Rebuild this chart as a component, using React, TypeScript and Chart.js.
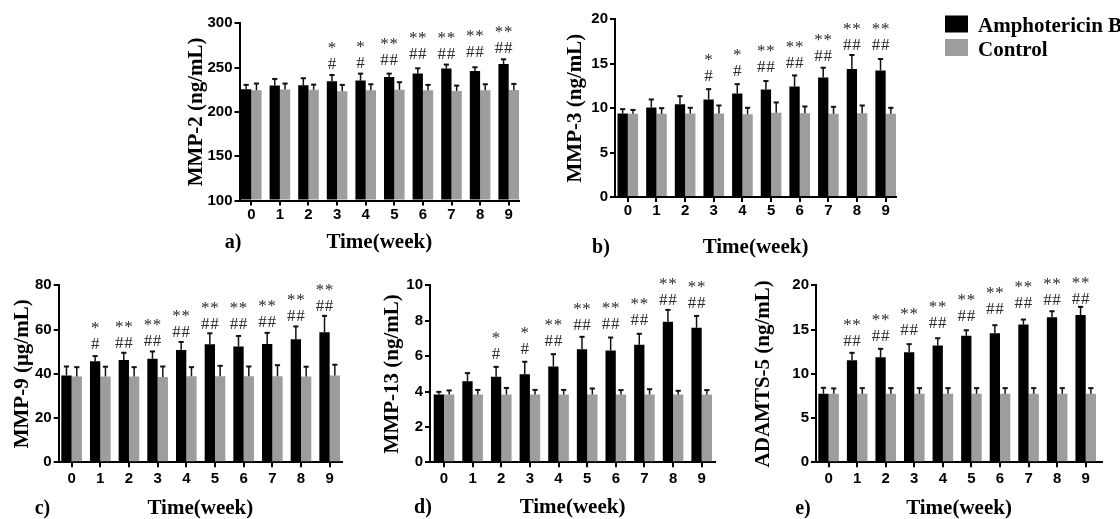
import React, { useEffect, useRef } from 'react';
import { Chart, registerables } from 'chart.js';

Chart.register(...registerables);

// ---------------- data ----------------
const weeks = [0, 1, 2, 3, 4, 5, 6, 7, 8, 9];
const seriesNames = ['Amphotericin B', 'Control'];
const seriesColors = ['#000000', '#9d9d9d'];
const xTitle = 'Time(week)';

// MMP-2
const mmp2Amph = [225.6, 229.7, 230.0, 234.6, 235.3, 239.5, 243.2, 248.9, 246.2, 254.1];
const mmp2AmphErr = [4.9, 7.5, 8.0, 7.1, 7.9, 3.7, 6.0, 4.5, 4.2, 5.3];
const mmp2Ctrl = [224.4, 225.2, 225.0, 223.3, 224.4, 225.0, 224.4, 223.7, 224.4, 224.8];
const mmp2CtrlErr = [7.6, 6.8, 5.8, 7.2, 6.8, 8.5, 6.1, 6.0, 6.8, 6.8];
const mmp2Stars = ['', '', '', '*', '*', '**', '**', '**', '**', '**'];
const mmp2Hashes = ['', '', '', '#', '#', '##', '##', '##', '##', '##'];
const mmp2SigLevel = [null, null, null, 254, 255, 258.5, 265, 265.3, 266.8, 272];

// MMP-3
const mmp3Amph = [9.4, 10.08, 10.45, 10.98, 11.65, 12.1, 12.44, 13.46, 14.4, 14.25];
const mmp3AmphErr = [0.49, 0.9, 0.9, 1.16, 1.05, 0.95, 1.24, 1.09, 1.58, 1.28];
const mmp3Ctrl = [9.36, 9.36, 9.4, 9.4, 9.32, 9.47, 9.44, 9.36, 9.44, 9.36];
const mmp3CtrlErr = [0.44, 0.64, 0.64, 0.9, 0.72, 1.17, 0.75, 0.79, 0.86, 0.68];
const mmp3Stars = ['', '', '', '*', '*', '**', '**', '**', '**', '**'];
const mmp3Hashes = ['', '', '', '#', '#', '##', '##', '##', '##', '##'];
const mmp3SigLevel = [null, null, null, 13.6, 14.1, 14.6, 15.04, 15.8, 17.0, 17.0];

// MMP-9
const mmp9Amph = [39.25, 45.7, 46.2, 46.8, 50.8, 53.4, 52.3, 53.5, 55.6, 58.8];
const mmp9AmphErr = [4.05, 2.3, 3.3, 3.3, 3.6, 4.9, 4.8, 5.0, 5.8, 7.4];
const mmp9Ctrl = [38.8, 38.8, 38.8, 38.6, 38.9, 38.9, 38.9, 38.9, 38.8, 39.25];
const mmp9CtrlErr = [4.2, 4.4, 4.2, 4.7, 4.1, 4.7, 4.4, 5.0, 4.4, 4.85];
const mmp9Stars = ['', '*', '**', '**', '**', '**', '**', '**', '**', '**'];
const mmp9Hashes = ['', '#', '##', '##', '##', '##', '##', '##', '##', '##'];
const mmp9SigLevel = [null, 53.2, 53.5, 54.7, 58.5, 62.3, 62.3, 63.0, 66.0, 70.2];

// MMP-13
const mmp13Amph = [3.83, 4.58, 4.83, 4.98, 5.41, 6.39, 6.32, 6.64, 7.94, 7.6];
const mmp13AmphErr = [0.15, 0.46, 0.56, 0.7, 0.7, 0.7, 0.73, 0.62, 0.67, 0.67];
const mmp13Ctrl = [3.83, 3.83, 3.83, 3.83, 3.83, 3.83, 3.83, 3.83, 3.83, 3.83];
const mmp13CtrlErr = [0.23, 0.26, 0.37, 0.26, 0.26, 0.34, 0.25, 0.3, 0.21, 0.25];
const mmp13Stars = ['', '', '*', '*', '**', '**', '**', '**', '**', '**'];
const mmp13Hashes = ['', '', '#', '#', '##', '##', '##', '##', '##', '##'];
const mmp13SigLevel = [null, null, 6.11, 6.39, 6.82, 7.71, 7.77, 7.99, 9.14, 8.99];

// ADAMTS-5
const adamts5Amph = [7.74, 11.54, 11.88, 12.44, 13.2, 14.29, 14.59, 15.56, 16.39, 16.65];
const adamts5AmphErr = [0.68, 0.83, 0.94, 0.91, 0.82, 0.63, 0.9, 0.57, 0.68, 0.91];
const adamts5Ctrl = [7.74, 7.74, 7.74, 7.74, 7.74, 7.74, 7.74, 7.74, 7.74, 7.74];
const adamts5CtrlErr = [0.61, 0.64, 0.64, 0.64, 0.64, 0.64, 0.64, 0.64, 0.64, 0.64];
const adamts5Stars = ['', '**', '**', '**', '**', '**', '**', '**', '**', '**'];
const adamts5Hashes = ['', '##', '##', '##', '##', '##', '##', '##', '##', '##'];
const adamts5SigLevel = [null, 13.68, 14.25, 14.89, 15.68, 16.5, 17.26, 17.9, 18.3, 18.42];

// ---------------- layout / style ----------------
const W = 1120;
const H = 519;
const SERIF = '"Liberation Serif", "Times New Roman", Times, serif';
const SANS = '"Liberation Sans", Arial, Helvetica, sans-serif';
const TITLE_SIZE = 21;
const TITLE_LH = 1.2;
const HALF = 0.36;

type PanelDef = {
  key: string;
  yTitle: string;
  yMin: number;
  yMax: number;
  yStep: number;
  values: number[][];
  errors: number[][];
  stars: string[];
  hashes: string[];
  sig: (number | null)[];
  label: string;
  labelX: number;
  labelY: number;
  axisLeft: number;
  axisRight: number;
  barsLeft: number;
  barsRight: number;
  axisTop: number;
  axisBottom: number;
  yTitleX: number;
  xTitleY: number;
  xTickPad: number;
  legend?: boolean;
};

const panels: PanelDef[] = [
  {
    key: 'a', yTitle: 'MMP-2 (ng/mL)', yMin: 100, yMax: 300, yStep: 50,
    values: [mmp2Amph, mmp2Ctrl], errors: [mmp2AmphErr, mmp2CtrlErr],
    stars: mmp2Stars, hashes: mmp2Hashes, sig: mmp2SigLevel,
    label: 'a)', labelX: 233, labelY: 243,
    axisLeft: 239.5, axisRight: 519, barsLeft: 241, barsRight: 519,
    axisTop: 23.3, axisBottom: 200.5, yTitleX: 197, xTitleY: 243, xTickPad: 0,
  },
  {
    key: 'b', yTitle: 'MMP-3 (ng/mL)', yMin: 0, yMax: 20, yStep: 5,
    values: [mmp3Amph, mmp3Ctrl], errors: [mmp3AmphErr, mmp3CtrlErr],
    stars: mmp3Stars, hashes: mmp3Hashes, sig: mmp3SigLevel,
    label: 'b)', labelX: 601, labelY: 248,
    axisLeft: 615, axisRight: 896, barsLeft: 617.5, barsRight: 896,
    axisTop: 19.3, axisBottom: 197, yTitleX: 576, xTitleY: 248, xTickPad: 0,
    legend: true,
  },
  {
    key: 'c', yTitle: 'MMP-9 (μg/mL)', yMin: 0, yMax: 80, yStep: 20,
    values: [mmp9Amph, mmp9Ctrl], errors: [mmp9AmphErr, mmp9CtrlErr],
    stars: mmp9Stars, hashes: mmp9Hashes, sig: mmp9SigLevel,
    label: 'c)', labelX: 42.5, labelY: 509,
    axisLeft: 58.7, axisRight: 342, barsLeft: 61.3, barsRight: 340,
    axisTop: 285.3, axisBottom: 462.3, yTitleX: 22.5, xTitleY: 509, xTickPad: 3,
  },
  {
    key: 'd', yTitle: 'MMP-13 (ng/mL)', yMin: 0, yMax: 10, yStep: 2,
    values: [mmp13Amph, mmp13Ctrl], errors: [mmp13AmphErr, mmp13CtrlErr],
    stars: mmp13Stars, hashes: mmp13Hashes, sig: mmp13SigLevel,
    label: 'd)', labelX: 423, labelY: 508,
    axisLeft: 430, axisRight: 715, barsLeft: 433.7, barsRight: 712,
    axisTop: 285.3, axisBottom: 462.3, yTitleX: 392.5, xTitleY: 508, xTickPad: 3,
  },
  {
    key: 'e', yTitle: 'ADAMTS-5 (ng/mL)', yMin: 0, yMax: 20, yStep: 5,
    values: [adamts5Amph, adamts5Ctrl], errors: [adamts5AmphErr, adamts5CtrlErr],
    stars: adamts5Stars, hashes: adamts5Hashes, sig: adamts5SigLevel,
    label: 'e)', labelX: 803, labelY: 509,
    axisLeft: 816, axisRight: 1102, barsLeft: 818.3, barsRight: 1096,
    axisTop: 285.3, axisBottom: 462.3, yTitleX: 764, xTitleY: 509, xTickPad: 3,
  },
];

function drawChars(ctx: CanvasRenderingContext2D, str: string, x: number, y: number) {
  const n = str.length;
  const gap = 9.2;
  for (let k = 0; k < n; k++) {
    const cx = x + (k - (n - 1) / 2) * gap;
    ctx.fillText(str[k], cx, y);
  }
}

function makeExtras(p: PanelDef) {
  return {
    id: 'extras_' + p.key,
    afterDatasetsDraw(chart: any) {
      const ctx: CanvasRenderingContext2D = chart.ctx;
      const yScale = chart.scales.y;
      ctx.save();
      // error bars (upper whisker only)
      p.errors.forEach((errArr, di) => {
        const meta = chart.getDatasetMeta(di);
        const vals = p.values[di];
        meta.data.forEach((el: any, i: number) => {
          const x = el.x;
          const yb = el.y;
          const yt = yScale.getPixelForValue(vals[i] + errArr[i]);
          ctx.strokeStyle = '#111';
          ctx.lineWidth = 1.5;
          ctx.beginPath();
          ctx.moveTo(x, yb);
          ctx.lineTo(x, yt);
          ctx.stroke();
          ctx.lineWidth = 2;
          ctx.beginPath();
          ctx.moveTo(x - 2.6, yt);
          ctx.lineTo(x + 2.6, yt);
          ctx.stroke();
        });
      });
      // significance marks
      const meta0 = chart.getDatasetMeta(0);
      ctx.fillStyle = '#2a2a2a';
      ctx.font = `17px ${SERIF}`;
      ctx.textAlign = 'center';
      ctx.textBaseline = 'middle';
      p.sig.forEach((lvl, i) => {
        if (lvl === null || lvl === undefined) return;
        const x = meta0.data[i].x;
        const yc = yScale.getPixelForValue(lvl);
        if (p.hashes[i]) drawChars(ctx, p.hashes[i], x, yc);
        if (p.stars[i]) drawChars(ctx, p.stars[i], x, yc - 16);
      });
      // panel letter
      ctx.fillStyle = '#000';
      ctx.font = `bold 20px ${SERIF}`;
      ctx.textAlign = 'center';
      ctx.textBaseline = 'middle';
      ctx.fillText(p.label, p.labelX, p.labelY);
      // legend
      if (p.legend) {
        chart.data.datasets.forEach((ds: any, i: number) => {
          const top = 15.5 + i * 23.5;
          ctx.fillStyle = ds.backgroundColor;
          ctx.fillRect(945, top, 23, 17);
          ctx.fillStyle = '#000';
          ctx.font = `bold 21px ${SERIF}`;
          ctx.textAlign = 'left';
          ctx.textBaseline = 'alphabetic';
          ctx.fillText(ds.label, 978, top + 16.5);
        });
      }
      ctx.restore();
    },
  };
}

function buildConfig(p: PanelDef): any {
  const lh = TITLE_SIZE * TITLE_LH;
  const yBoxLeft = p.yTitleX - lh / 2;
  const xBoxBottom = p.xTitleY + lh / 2;
  const s = (p.barsRight - p.barsLeft) / (weeks.length - 1 + 2 * HALF);
  const xMin = -HALF - (p.barsLeft - p.axisLeft) / s;
  const xMax = weeks.length - 1 + HALF + (p.axisRight - p.barsRight) / s;
  const tickFont = { family: SANS, size: 15, weight: 'bold' as const };
  const titleFont = { family: SERIF, size: TITLE_SIZE, weight: 'bold' as const, lineHeight: TITLE_LH };
  const grid = {
    display: true,
    drawOnChartArea: false,
    drawTicks: true,
    tickLength: 5,
    lineWidth: 2,
    color: '#000',
    offset: false,
  };
  const border = { display: true, color: '#000', width: 2 };
  return {
    type: 'bar',
    data: {
      datasets: seriesNames.map((name, di) => ({
        label: name,
        data: weeks.map((w, i) => ({ x: w, y: p.values[di][i] })),
        backgroundColor: seriesColors[di],
        borderWidth: 0,
        base: p.yMin,
        categoryPercentage: 0.72,
        barPercentage: 1,
      })),
    },
    options: {
      responsive: false,
      maintainAspectRatio: false,
      animation: false,
      events: [],
      layout: {
        padding: {
          left: yBoxLeft,
          top: p.axisTop,
          right: W - p.axisRight,
          bottom: H - xBoxBottom,
        },
      },
      plugins: {
        legend: { display: false },
        tooltip: { enabled: false },
        title: { display: false },
      },
      scales: {
        x: {
          type: 'linear',
          min: xMin,
          max: xMax,
          offset: false,
          afterFit: (sc: any) => {
            sc.height = xBoxBottom - p.axisBottom;
          },
          grid,
          border,
          ticks: {
            stepSize: 1,
            includeBounds: false,
            autoSkip: false,
            maxRotation: 0,
            padding: p.xTickPad,
            color: '#000',
            font: tickFont,
            callback: (v: number) => (Number.isInteger(v) && weeks[v] !== undefined ? String(weeks[v]) : ''),
          },
          title: { display: true, text: xTitle, color: '#000', font: titleFont, padding: 0 },
        },
        y: {
          type: 'linear',
          min: p.yMin,
          max: p.yMax,
          afterFit: (sc: any) => {
            sc.width = p.axisLeft - yBoxLeft;
          },
          grid,
          border,
          ticks: {
            stepSize: p.yStep,
            padding: 2,
            color: '#000',
            font: tickFont,
          },
          title: { display: true, text: p.yTitle, color: '#000', font: titleFont, padding: 0 },
        },
      },
    },
    plugins: [makeExtras(p)],
  };
}

function Panel({ def }: { def: PanelDef }) {
  const ref = useRef<HTMLCanvasElement>(null);
  useEffect(() => {
    if (!ref.current) return;
    const chart = new Chart(ref.current, buildConfig(def));
    return () => chart.destroy();
  }, [def]);
  return (
    <canvas
      ref={ref}
      width={W}
      height={H}
      style={{ position: 'absolute', left: 0, top: 0, width: W, height: H }}
    />
  );
}

export default function App() {
  return (
    <div
      style={{
        position: 'absolute',
        left: 0,
        top: 0,
        width: W,
        height: H,
        background: '#fff',
        overflow: 'hidden',
      }}
    >
      {panels.map((p) => (
        <Panel key={p.key} def={p} />
      ))}
    </div>
  );
}
